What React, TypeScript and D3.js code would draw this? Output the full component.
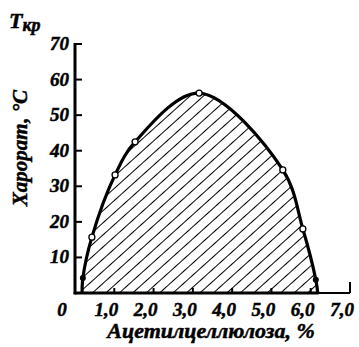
import React from "react";
import * as d3 from "d3";

const curveX = [0.18, 0.2, 0.43, 1.02, 1.53, 3.16, 5.29, 5.8, 6.13, 6.18];
const curveT = [0, 4.2, 15.7, 33.2, 42.5, 56.2, 34.6, 18, 3.7, 0];
const openIdx = [2, 3, 4, 5, 6, 7];
const dotIdx = [1, 8];
const yTicks = [10, 20, 30, 40, 50, 60, 70];
const xTicks = [1, 2, 3, 4, 5, 6, 7];
const xTickLabels = ["1,0", "2,0", "3,0", "4,0", "5,0", "6,0", "7,0"];

const FONT = "'Liberation Serif', 'DejaVu Serif', serif";

export default function App() {
  const x = d3.scaleLinear().domain([0, 7]).range([75, 350]);
  const y = d3.scaleLinear().domain([0, 70]).range([293, 44]);
  const pts: [number, number][] = curveX.map((v, i) => [x(v), y(curveT[i])]);
  const line = d3.line().curve(d3.curveCatmullRom.alpha(0.5))(pts) || "";
  const area = line + `L${x(curveX[0])},${y(0)}Z`;

  return (
    <svg width={359} height={347} style={{ position: "absolute", left: 0, top: 0, background: "#fff" }}>
      <defs>
        <pattern id="hatch" patternUnits="userSpaceOnUse" width={9} height={9} patternTransform="rotate(48)">
          <line x1={0} y1={-1} x2={0} y2={10} stroke="#000" strokeWidth={2} />
        </pattern>
      </defs>
      <path d={area} fill="url(#hatch)" />
      {/* axes */}
      <line x1={x(0)} y1={y(70) - 1} x2={x(0)} y2={y(0) + 1.5} stroke="#000" strokeWidth={3} />
      <line x1={x(0) - 1.5} y1={y(0)} x2={x(7)} y2={y(0)} stroke="#000" strokeWidth={2.2} />
      <line x1={x(0)} y1={y(0)} x2={x(6.2)} y2={y(0)} stroke="#000" strokeWidth={3} />
      {yTicks.map((t) => (
        <line key={t} x1={x(0)} y1={y(t)} x2={x(0) + 7} y2={y(t)} stroke="#000" strokeWidth={2} />
      ))}
      {xTicks.map((t) => (
        <line key={t} x1={x(t)} y1={y(0)} x2={x(t)} y2={y(0) - (t === 7 ? 11 : 5)} stroke="#000" strokeWidth={2} />
      ))}
      <path d={line} fill="none" stroke="#000" strokeWidth={3.2} />
      {openIdx.map((i) => (
        <circle key={i} cx={pts[i][0]} cy={pts[i][1]} r={3} fill="#fff" stroke="#000" strokeWidth={1.3} />
      ))}
      {dotIdx.map((i) => (
        <circle key={i} cx={pts[i][0]} cy={pts[i][1]} r={3} fill="#000" />
      ))}
      <g fontFamily={FONT} fontWeight="bold" fontStyle="italic" fill="#000" stroke="#000" strokeWidth={0.5}>
        {yTicks.map((t) => (
          <text key={t} x={69} y={y(t) + 6} fontSize={19} textAnchor="end">{t}</text>
        ))}
        {xTicks.map((t, i) => (
          <text key={t} x={x(t) - 8} y={316} fontSize={19} textAnchor="middle">{xTickLabels[i]}</text>
        ))}
        <text x={62} y={316} fontSize={19} textAnchor="middle">0</text>
        <text x={211} y={338} fontSize={22} textAnchor="middle">Ацетилцеллюлоза, %</text>
        <text transform="translate(27,148) rotate(-90)" fontSize={21} textAnchor="middle">Харорат, °С</text>
        <text x={9} y={28} fontSize={22}>T<tspan fontSize={18} dy={3}>кр</tspan></text>
      </g>
    </svg>
  );
}
